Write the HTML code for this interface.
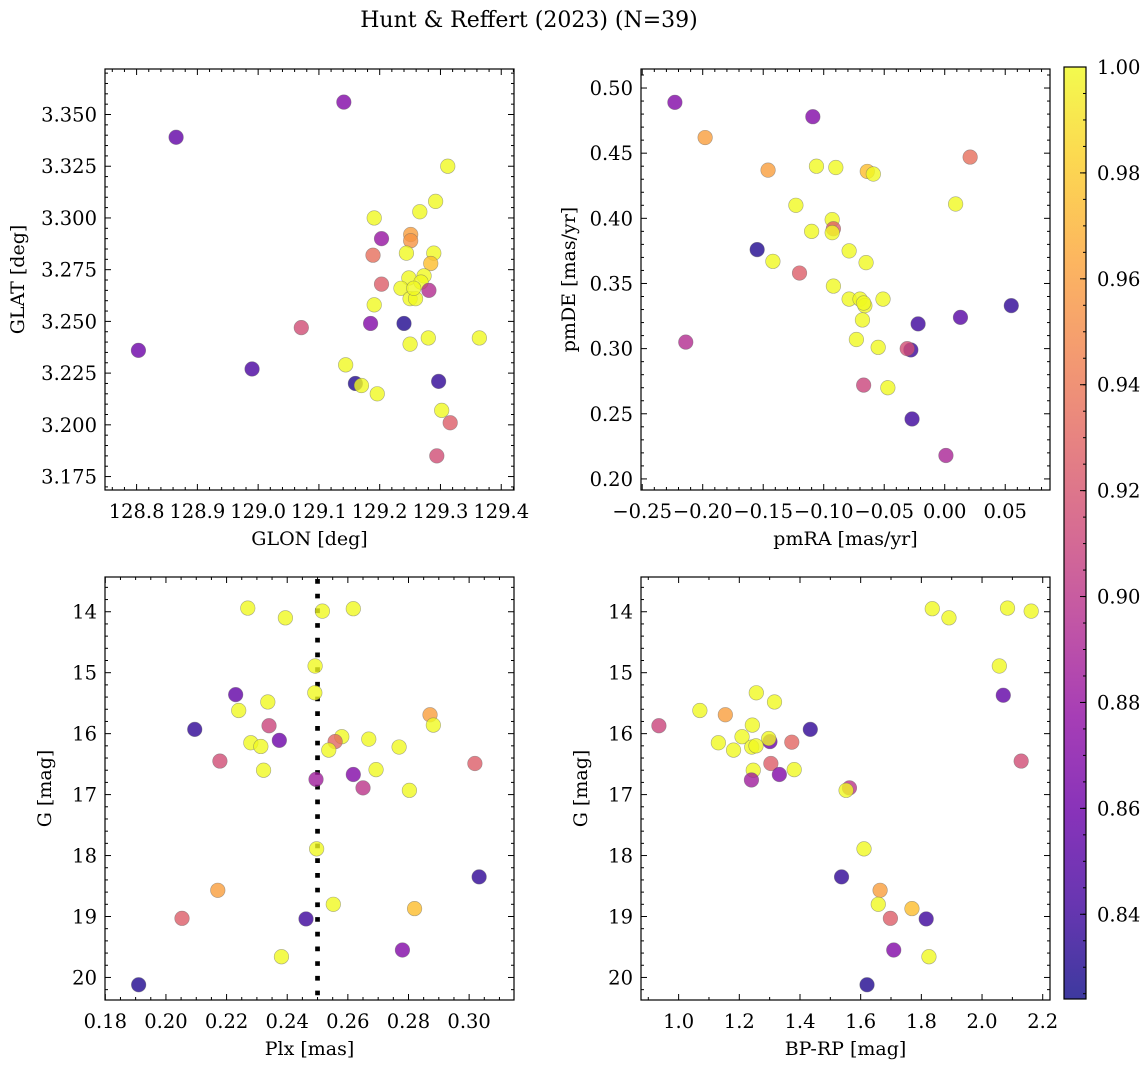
<!DOCTYPE html>
<html><head><meta charset="utf-8">
<style>
html,body{margin:0;padding:0;background:#fff;}
svg text{font-family:"DejaVu Serif","Liberation Serif",serif;fill:#000;}
</style></head>
<body>
<svg id="fig" width="1148" height="1067" viewBox="0 0 1148 1067" xmlns="http://www.w3.org/2000/svg">
<rect x="0" y="0" width="1148" height="1067" fill="#fff"/>
<text x="529" y="27" font-size="22" text-anchor="middle">Hunt &amp; Reffert (2023) (N=39)</text>
</svg>
<script>
// Panel 1: GLON / GLAT
const p1GLON = [129.141,128.865,129.312,129.292,129.266,129.191,129.203,129.251,129.251,129.189,129.244,129.289,129.284,129.248,129.273,129.268,129.203,129.235,129.281,129.250,129.259,129.191,129.185,129.240,129.071,129.280,129.364,129.250,128.803,128.990,129.144,129.160,129.170,129.196,129.297,129.302,129.316,129.294,129.256];
const p1GLAT = [3.356,3.339,3.325,3.308,3.303,3.300,3.290,3.292,3.289,3.282,3.283,3.283,3.278,3.271,3.272,3.269,3.268,3.266,3.265,3.261,3.261,3.258,3.249,3.249,3.247,3.242,3.242,3.239,3.236,3.227,3.229,3.220,3.219,3.215,3.221,3.207,3.201,3.185,3.266];
const p1Prob = [0.87,0.855,1,1,1,1,0.88,0.96,0.955,0.935,1,1,0.975,1,1,1,0.925,1,0.895,1,1,1,0.87,0.83,0.915,1,1,1,0.86,0.845,1,0.83,1,1,0.835,1,0.925,0.915,1];
// Panel 2: pmRA / pmDE
const p2pmRA = [-0.223,-0.109,-0.198,0.021,-0.146,-0.106,-0.090,-0.064,-0.059,-0.123,0.009,-0.093,-0.092,-0.110,-0.093,-0.155,-0.079,-0.142,-0.065,-0.120,-0.092,-0.079,-0.070,-0.066,-0.067,-0.051,0.055,-0.068,-0.022,0.013,-0.214,-0.073,-0.055,-0.028,-0.031,-0.067,-0.047,-0.027,0.001];
const p2pmDE = [0.489,0.478,0.462,0.447,0.437,0.440,0.439,0.436,0.434,0.410,0.411,0.399,0.392,0.390,0.389,0.376,0.375,0.367,0.366,0.358,0.348,0.338,0.338,0.333,0.335,0.338,0.333,0.322,0.319,0.324,0.305,0.307,0.301,0.299,0.300,0.272,0.270,0.246,0.218];
const p2Prob = [0.87,0.87,0.96,0.935,0.96,1,1,0.975,1,1,1,1,0.925,1,1,0.83,1,1,1,0.925,1,1,1,1,1,1,0.835,1,0.84,0.85,0.895,1,1,0.84,0.915,0.91,1,0.84,0.89];
// Panel 3: Plx / G
const p3Plx = [0.2270,0.2394,0.2516,0.2618,0.2492,0.2491,0.2230,0.2336,0.2240,0.2871,0.2882,0.2340,0.2095,0.2580,0.2558,0.2374,0.2669,0.2280,0.2313,0.2537,0.2769,0.2178,0.3019,0.2322,0.2693,0.2495,0.2618,0.2650,0.2803,0.2497,0.3033,0.2171,0.2552,0.2820,0.2053,0.2462,0.2780,0.2381,0.1910];
const p3G = [13.94,14.10,13.99,13.95,14.89,15.33,15.36,15.48,15.62,15.69,15.86,15.87,15.93,16.05,16.13,16.11,16.09,16.15,16.21,16.27,16.22,16.45,16.49,16.60,16.59,16.75,16.67,16.89,16.93,17.89,18.35,18.57,18.80,18.87,19.03,19.04,19.55,19.66,20.12];
const p3Prob = [1,1,1,1,1,1,0.855,1,1,0.96,1,0.91,0.835,1,0.93,0.86,1,1,1,1,1,0.915,0.925,1,1,0.885,0.87,0.9,1,1,0.835,0.96,1,0.975,0.925,0.84,0.87,1,0.83];
// Panel 4: BP-RP / G
const p4BPRP = [1.836,1.891,2.084,2.162,2.057,2.070,1.256,1.316,1.070,1.154,0.935,1.243,1.434,1.209,1.373,1.301,1.297,1.131,1.181,1.241,1.255,2.129,1.304,1.246,1.381,1.240,1.332,1.563,1.552,1.611,1.537,1.664,1.658,1.769,1.698,1.816,1.709,1.825,1.621];
const p4G = [13.95,14.10,13.94,13.99,14.89,15.37,15.33,15.48,15.62,15.69,15.87,15.86,15.93,16.05,16.14,16.13,16.08,16.15,16.27,16.22,16.20,16.45,16.49,16.60,16.59,16.76,16.67,16.89,16.93,17.89,18.35,18.57,18.80,18.87,19.03,19.04,19.55,19.66,20.12];
const p4Prob = [1,1,1,1,1,0.855,1,1,1,0.96,0.91,1,0.835,1,0.93,0.86,1,1,1,1,1,0.915,0.925,1,1,0.885,0.87,0.9,1,1,0.835,0.96,1,0.975,0.925,0.84,0.87,1,0.83];
// Colorbar ticks
const cbTicks = [0.84,0.86,0.88,0.90,0.92,0.94,0.96,0.98,1.00];
const cbMin = 0.824, cbMax = 1.0;
const plxCut = 0.25;

const NS = "http://www.w3.org/2000/svg";
const svg = document.getElementById('fig');
function el(tag, attrs, parent){
  const e = document.createElementNS(NS, tag);
  for (const k in attrs) e.setAttribute(k, attrs[k]);
  (parent||svg).appendChild(e);
  return e;
}
const plasma = [[13,8,135],[65,4,157],[106,0,168],[143,13,164],[177,42,144],[204,71,120],[225,100,98],[242,132,75],[252,166,54],[252,206,37],[240,249,33]];
function cmap(v){
  let t = (v-cbMin)/(cbMax-cbMin); t = Math.max(0,Math.min(1,t));
  const s = t*10, i = Math.min(9, Math.floor(s)), f = s-i;
  const a = plasma[i], b = plasma[i+1];
  return 'rgb('+a.map((c,j)=>Math.round(c+(b[j]-c)*f)).join(',')+')';
}
function fmt(v,d){ const s = Math.abs(v).toFixed(d); return (v < -1e-9 ? '\u2212' : '') + s; }

function panel(cfg){
  const g = el('g', {});
  
  
  const L=cfg.l,R=cfg.r,T=cfg.t,B=cfg.b;
  const sx = v => L + (v-cfg.xlim[0])/(cfg.xlim[1]-cfg.xlim[0])*(R-L);
  const sy = cfg.invert ? (v => T + (v-cfg.ylim[0])/(cfg.ylim[1]-cfg.ylim[0])*(B-T))
                        : (v => B - (v-cfg.ylim[0])/(cfg.ylim[1]-cfg.ylim[0])*(B-T));
  const lo = Math.min(cfg.ylim[0],cfg.ylim[1]), hi = Math.max(cfg.ylim[0],cfg.ylim[1]);
  const ticks = el('g', {stroke:'#000','stroke-width':1}, g);
  
  
  for (let k = Math.ceil(cfg.xlim[0]/cfg.xminor-1e-6); k*cfg.xminor <= cfg.xlim[1]+1e-9; k++){
    const v = k*cfg.xminor, x = sx(v);
    const isMaj = Math.abs(v/cfg.xmajor - Math.round(v/cfg.xmajor)) < 1e-4;
    const len = isMaj ? 6 : 3;
    el('line',{x1:x,x2:x,y1:B,y2:B-len},ticks); el('line',{x1:x,x2:x,y1:T,y2:T+len},ticks);
    if (isMaj){
      const t = el('text',{x:x,y:B+28,'font-size':19.5,'text-anchor':'middle',stroke:'none'},g);
      
      
      t.textContent = fmt(v,cfg.xdec);
    }
  }
  for (let k = Math.ceil(lo/cfg.yminor-1e-6); k*cfg.yminor <= hi+1e-9; k++){
    const v = k*cfg.yminor, y = sy(v);
    const isMaj = Math.abs(v/cfg.ymajor - Math.round(v/cfg.ymajor)) < 1e-4;
    const len = isMaj ? 6 : 3;
    el('line',{x1:L,x2:L+len,y1:y,y2:y},ticks); el('line',{x1:R,x2:R-len,y1:y,y2:y},ticks);
    if (isMaj){
      const t = el('text',{x:L-8,y:y+7,'font-size':19.5,'text-anchor':'end',stroke:'none'},g);
      
      
      t.textContent = fmt(v,cfg.ydec);
    }
  }
  if (cfg.vline !== undefined){
    const ln = el('line',{x1:sx(cfg.vline),x2:sx(cfg.vline),y1:T+2,y2:B,stroke:'#000','stroke-width':4.7,'stroke-dasharray':'4.7 10'},g);
    
    
  }
  const pts = el('g',{},g);
  
  
  for (let i=0;i<cfg.xs.length;i++){
    const c = el('circle',{cx:sx(cfg.xs[i]),cy:sy(cfg.ys[i]),r:7.3,fill:cmap(cfg.c[i]),'fill-opacity':0.8,stroke:'#666','stroke-opacity':0.55,'stroke-width':0.6},pts);
    
    
  }
  const fr = el('rect',{x:L,y:T,width:R-L,height:B-T,fill:'none',stroke:'#000','stroke-width':1.2},g);
  
  
  const xl = el('text',{x:(L+R)/2,y:B+55,'font-size':19,'text-anchor':'middle'},g);
  
  
  xl.textContent = cfg.xlabel;
  const yl = el('text',{x:0,y:0,'font-size':19,'text-anchor':'middle',transform:'translate('+cfg.ylx+','+((T+B)/2)+') rotate(-90)'},g);
  
  
  yl.textContent = cfg.ylabel;
}

panel({name:'glon-glat-panel',l:105,r:514,t:69,b:490,xlim:[128.748,129.421],ylim:[3.1685,3.372],xmajor:0.1,xminor:0.02,ymajor:0.025,yminor:0.005,xdec:1,ydec:3,xs:p1GLON,ys:p1GLAT,c:p1Prob,xlabel:'GLON [deg]',ylabel:'GLAT [deg]',ylx:24});
panel({name:'pm-panel',l:641,r:1050,t:69,b:490,xlim:[-0.251,0.087],ylim:[0.1915,0.5146],xmajor:0.05,xminor:0.01,ymajor:0.05,yminor:0.01,xdec:2,ydec:2,xs:p2pmRA,ys:p2pmDE,c:p2Prob,xlabel:'pmRA [mas/yr]',ylabel:'pmDE [mas/yr]',ylx:575});
panel({name:'plx-g-panel',l:105,r:514,t:577,b:1000,xlim:[0.1799,0.3148],ylim:[13.43,20.37],invert:true,xmajor:0.02,xminor:0.005,ymajor:1,yminor:0.2,xdec:2,ydec:0,xs:p3Plx,ys:p3G,c:p3Prob,xlabel:'Plx [mas]',ylabel:'G [mag]',ylx:51,vline:plxCut});
panel({name:'cmd-panel',l:641,r:1050,t:577,b:1000,xlim:[0.876,2.224],ylim:[13.43,20.37],invert:true,xmajor:0.2,xminor:0.1,ymajor:1,yminor:0.2,xdec:1,ydec:0,xs:p4BPRP,ys:p4G,c:p4Prob,xlabel:'BP-RP [mag]',ylabel:'G [mag]',ylx:587});

// Colorbar
(function(){
  const L=1064,R=1086,T=67,B=999;
  const g = el('g',{});
  
  
  const defs = el('defs',{},g);
  const lg = el('linearGradient',{id:'cbg',x1:0,y1:1,x2:0,y2:0},defs);
  for (let i=0;i<=20;i++){
    const v = cbMin + (cbMax-cbMin)*i/20;
    el('stop',{offset:(i/20),'stop-color':cmap(v),'stop-opacity':0.8},lg);
  }
  const r = el('rect',{x:L,y:T,width:R-L,height:B-T,fill:'url(#cbg)',stroke:'#000','stroke-width':1.2},g);
  
  
  const sy = v => B - (v-cbMin)/(cbMax-cbMin)*(B-T);
  for (let k=Math.ceil(cbMin/0.005-1e-6); k*0.005<=cbMax+1e-9; k++){
    const v=k*0.005, y=sy(v);
    el('line',{x1:R,x2:R-3,y1:y,y2:y,stroke:'#000','stroke-width':1},g);
  }
  for (const v of cbTicks){
    const y = sy(v);
    el('line',{x1:R,x2:R-6,y1:y,y2:y,stroke:'#000','stroke-width':1},g);
    const t = el('text',{x:R+11,y:y+7,'font-size':19.5},g);
    
    
    t.textContent = v.toFixed(2);
  }
})();
</script>
</body></html>
